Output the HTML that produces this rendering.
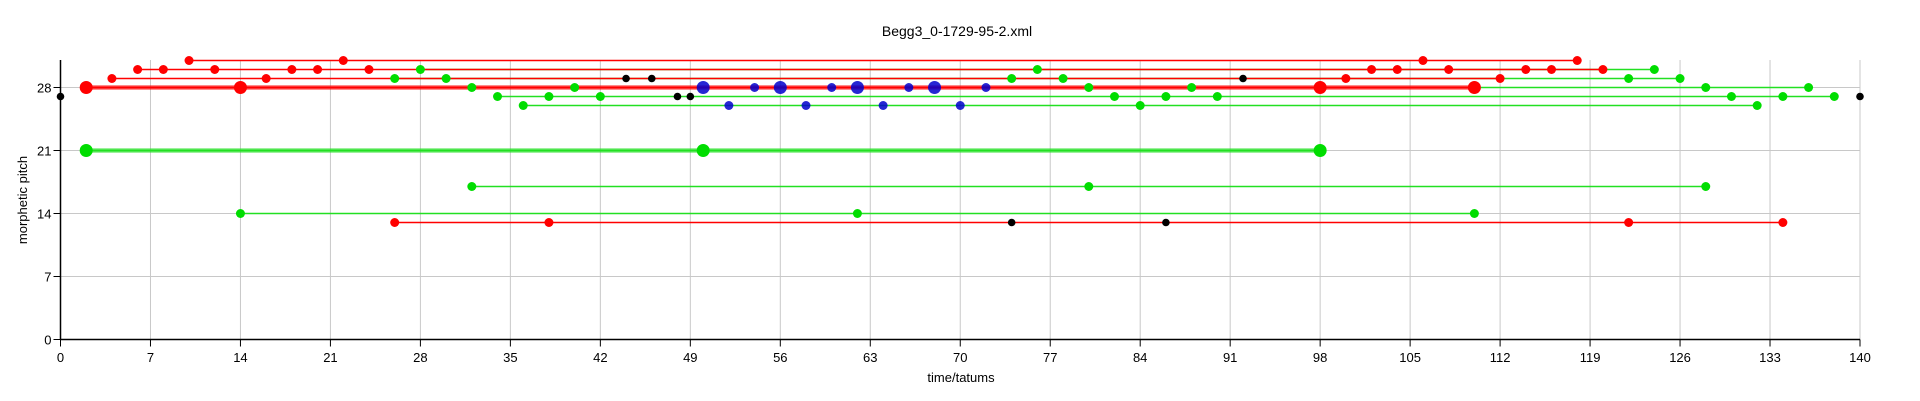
<!DOCTYPE html>
<html><head><meta charset="utf-8"><style>
html,body{margin:0;padding:0;background:#fff;}
svg{display:block;font-family:"Liberation Sans",Arial,sans-serif;}
</style></head><body>
<svg id="chart" width="1920" height="401" viewBox="0 0 1920 401">
<text x="957" y="36" font-size="14" text-anchor="middle">Begg3_0-1729-95-2.xml</text>
<g id="grid"></g>
<g id="lines"></g>
<g id="dots"></g>
<g id="axes"></g>
<text x="961" y="382" font-size="13" text-anchor="middle">time/tatums</text>
<text x="0" y="0" font-size="13" text-anchor="middle" transform="translate(27,200) rotate(-90)">morphetic pitch</text>
</svg>
<script>
const xTicks = [0,7,14,21,28,35,42,49,56,63,70,77,84,91,98,105,112,119,126,133,140];
const yTicks = [0,7,14,21,28];
// each series: colour, pitch, line start/end, point times, big point times
const seriesColors = ["green","green","green","green","green","red","red","red","red","red","green","green","green","black","blue","blue","black","black","black"];
const seriesPitch  = [30,29,28,27,26,31,30,29,28,13,21,17,14,29,28,26,27,27,13];
const seriesStart  = [28,26,32,34,36,10,6,4,2,26,2,32,14,null,null,null,null,null,null];
const seriesEnd    = [124,126,136,138,132,118,120,112,110,134,98,128,110,null,null,null,null,null,null];
const seriesTimes  = [
 [28,76,124],[26,30,74,78,122,126],[32,40,80,88,128,136],[34,38,42,82,86,90,130,134,138],[36,84,132],
 [10,22,106,118],[6,8,12,18,20,24,102,104,108,114,116,120],[4,16,100,112],[2,14,98,110],[26,38,122,134],
 [2,50,98],[32,80,128],[14,62,110],
 [44,46,92],[50,54,56,60,62,66,68,72],[52,58,64,70],[0,140],[48,49],[74,86]
];
const bigTimes = [[],[],[],[],[],[],[],[],[2,14,98,110],[],[2,50,98],[],[],[],[50,56,62,68],[],[],[],[]];
const thickSeries = [8,10];

const X0=60.5, X1=1860, XMAX=140, Y0=339.5, PPU=9, YTOP=60;
const xs = t => X0 + (X1-X0)*t/XMAX;
const ys = p => Y0 - p*PPU;
const NS="http://www.w3.org/2000/svg";
function mk(tag, attrs, parent){const e=document.createElementNS(NS,tag);for(const k in attrs)e.setAttribute(k,attrs[k]);parent.appendChild(e);return e;}
const grid=document.getElementById('grid'), axes=document.getElementById('axes'), lines=document.getElementById('lines'), dots=document.getElementById('dots');
const colMap={red:"#ff0000",green:"#00dd00",black:"#000000",blue:"#0000cc"};
const lineCol={red:"#ff0000",green:"#22e022",black:"#000",blue:"#0000cc"};

xTicks.forEach(t=>{
  const g=mk('line',{x1:xs(t),x2:xs(t),y1:YTOP,y2:Y0,stroke:"#c8c8c8","stroke-width":1},grid);
  
  
  const tk=mk('line',{x1:xs(t),x2:xs(t),y1:Y0,y2:Y0+7,stroke:"#000","stroke-width":1},axes);
  
  
  const lb=mk('text',{x:xs(t),y:362,"font-size":13,"text-anchor":"middle"},axes);
  lb.textContent=t;
  
  
});
yTicks.forEach(p=>{
  const g=mk('line',{x1:X0,x2:X1,y1:ys(p),y2:ys(p),stroke:"#c8c8c8","stroke-width":1},grid);
  
  
  const tk=mk('line',{x1:X0-7,x2:X0,y1:ys(p),y2:ys(p),stroke:"#000","stroke-width":1},axes);
  
  
  const lb=mk('text',{x:X0-9,y:ys(p)+5,"font-size":13,"text-anchor":"end"},axes);
  lb.textContent=p;
  
  
});
const xa=mk('line',{x1:X0,x2:X1,y1:Y0,y2:Y0,stroke:"#000","stroke-width":1.5},axes);


const ya=mk('line',{x1:X0,x2:X0,y1:YTOP,y2:Y0,stroke:"#000","stroke-width":1.5},axes);



seriesColors.forEach((c,i)=>{
  if(seriesStart[i]===null) return;
  const y=ys(seriesPitch[i]);
  const thick=thickSeries.includes(i);
  if(thick){
    const h=mk('line',{x1:xs(seriesStart[i]),x2:xs(seriesEnd[i]),y1:y,y2:y,stroke:lineCol[c],"stroke-width":5,"stroke-opacity":0.45},lines);
    
    
  }
  const l=mk('line',{x1:xs(seriesStart[i]),x2:xs(seriesEnd[i]),y1:y,y2:y,stroke:lineCol[c],"stroke-width":thick?2.2:1.5},lines);
  
  
});
seriesColors.forEach((c,i)=>{
  const y=ys(seriesPitch[i]);
  seriesTimes[i].forEach(t=>{
    const big=bigTimes[i].includes(t);
    const r = big?6.5:(c==="black"?3.8:4.5);
    const d=mk('circle',{cx:xs(t),cy:y,r:r,fill:colMap[c],"fill-opacity":c==="blue"?0.85:1},dots);
    
    
  });
});
</script>
</body></html>
